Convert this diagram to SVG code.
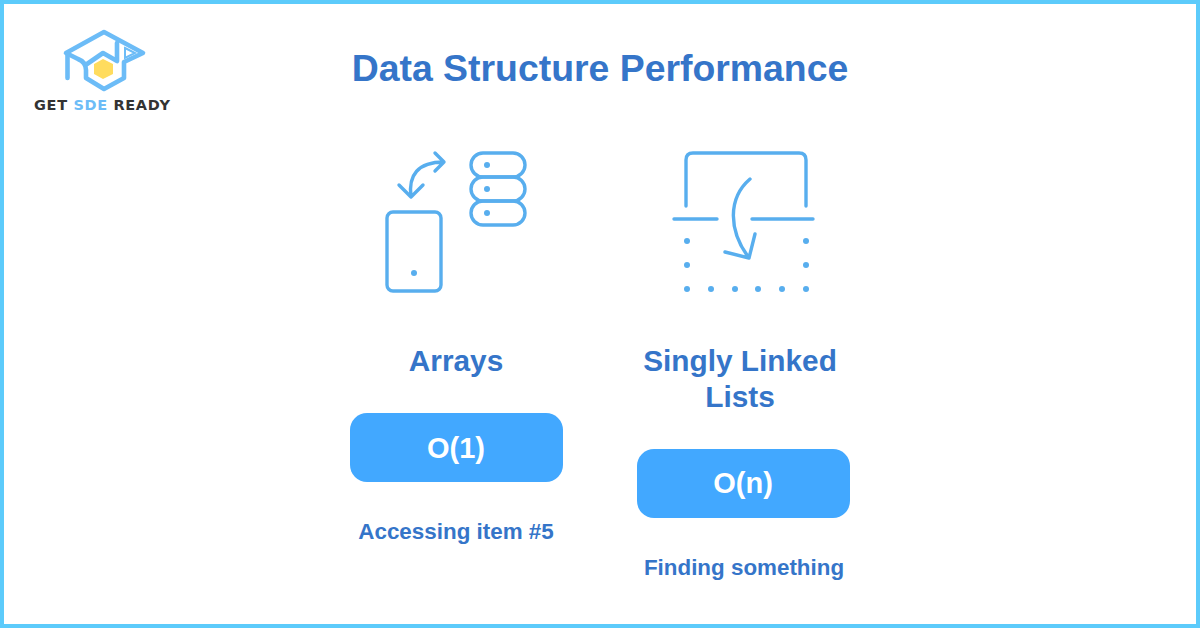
<svg xmlns="http://www.w3.org/2000/svg" width="1200" height="628" viewBox="0 0 1200 628">
<style>
.ln{fill:none;stroke:#58aeee;stroke-width:3.4;stroke-linecap:round;stroke-linejoin:round}
.dot{fill:#58aeee}
.t{font-family:"Liberation Sans",Arial,sans-serif;font-weight:700;fill:#3575c9;text-anchor:middle}
.h{font-size:29.8px}
.s{font-size:22.4px}
.pill{fill:#42a8ff}
.p{font-family:"Liberation Sans",Arial,sans-serif;font-weight:700;font-size:29px;fill:#fff;text-anchor:middle}
.logo{fill:none;stroke:#6cbcf7;stroke-width:4.6;stroke-linecap:round;stroke-linejoin:round}
.lt{font-family:"DejaVu Sans",sans-serif;font-weight:700;font-size:14.5px;letter-spacing:.66px;fill:#333}
</style>
<rect width="1200" height="628" fill="#fff"/>
<rect x="2" y="2" width="1196" height="624" fill="none" stroke="#5ccbfb" stroke-width="4"/>
<g id="logo">
<path class="logo" d="M66 53 L104 32 L143 53 L124 62 L124 78 L104 89 L86 78 L86 70 Q86 62 78 59 L66 53Z"/>
<path class="logo" d="M87 64 L103 53 L117 61 L117 43"/>
<path d="M125 48 L135 53 L125 58Z" fill="#fff" stroke="#6cbcf7" stroke-width="2"/>
<path class="logo" d="M67.500 55 L67.500 78"/>
<polygon points="103,59 113,64 113,74 103,79 94,74 94,64" fill="#ffdc5e"/>
<text class="lt" x="34" y="110">GET <tspan fill="#6cbcf7">SDE</tspan> READY</text>
</g>
<text id="title" class="t" x="600" y="81" font-size="37.4">Data Structure Performance</text>
<g id="arrays-icon">
<rect class="ln" x="387" y="212" width="54" height="79" rx="6"/>
<circle class="dot" cx="414" cy="273" r="3"/>
<rect class="ln" x="471" y="153" width="54" height="24" rx="12"/>
<rect class="ln" x="471" y="177" width="54" height="24" rx="12"/>
<rect class="ln" x="471" y="201" width="54" height="24" rx="12"/>
<circle class="dot" cx="487" cy="165" r="3"/>
<circle class="dot" cx="487" cy="189" r="3"/>
<circle class="dot" cx="487" cy="213" r="3"/>
<path class="ln" d="M411 197 C408 175 418 162 444 162 M435 153 L444 162 L435 171 M399 185 L411 197 L423 185"/>
</g>
<g id="lists-icon">
<path class="ln" d="M686 206 L686 160 Q686 153 693 153 L799 153 Q806 153 806 160 L806 206 M674 219 L717 219 M752 219 L813 219"/>
<path class="ln" d="M750 179 C728 198 728 230 749 258 M725 252 L749 258 L755 234"/>
<g class="dot">
<circle cx="687" cy="241" r="3"/><circle cx="806" cy="241" r="3"/>
<circle cx="687" cy="265" r="3"/><circle cx="806" cy="265" r="3"/>
<circle cx="687" cy="289" r="3"/><circle cx="711" cy="289" r="3"/><circle cx="735" cy="289" r="3"/><circle cx="758" cy="289" r="3"/><circle cx="782" cy="289" r="3"/><circle cx="806" cy="289" r="3"/>
</g>
</g>
<g id="arrays">
<text class="t h" x="456" y="371">Arrays</text>
<rect class="pill" x="350" y="413" width="213" height="69" rx="17"/>
<text class="p" x="456" y="458">O(1)</text>
<text class="t s" x="456" y="539">Accessing item #5</text>
</g>
<g id="lists">
<text class="t h" x="740" y="371">Singly Linked</text>
<text class="t h" x="740" y="407">Lists</text>
<rect class="pill" x="637" y="449" width="213" height="69" rx="17"/>
<text class="p" x="743" y="493">O(n)</text>
<text class="t s" x="744" y="575">Finding something</text>
</g>
<g id="connectors"/>
</svg>
